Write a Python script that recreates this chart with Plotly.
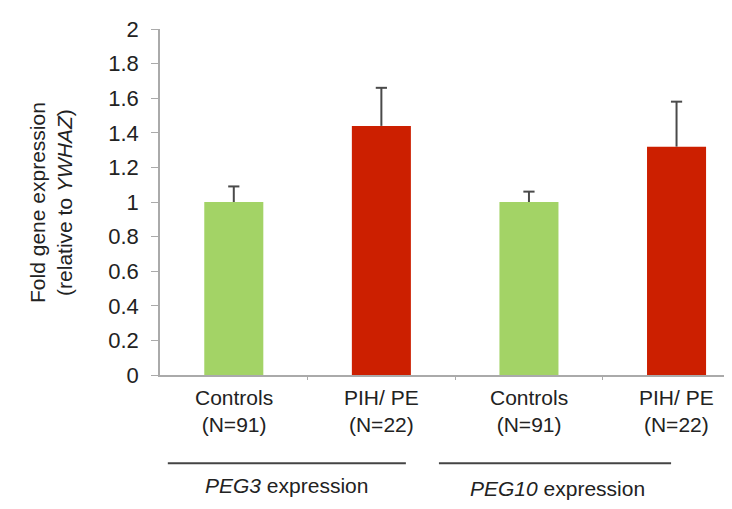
import plotly.graph_objects as go

# data
labels = ["Controls<br>(N=91)", "PIH/ PE<br>(N=22)", "Controls<br>(N=91)", "PIH/ PE<br>(N=22)"]
fold = [1.0, 1.44, 1.0, 1.32]
err_up = [0.09, 0.22, 0.06, 0.26]
colors = ["#a3d366", "#cc1f00", "#a3d366", "#cc1f00"]
groups = ["<i>PEG3</i> expression", "<i>PEG10</i> expression"]

xpos = list(range(len(fold)))
tops = [f + e for f, e in zip(fold, err_up)]

fig = go.Figure()
fig.add_trace(go.Bar(x=xpos, y=fold, width=0.4,
                     marker=dict(color=colors, line=dict(width=0))))
# upper error bar stems (no caps), then caps as markers
fig.add_trace(go.Scatter(
    x=xpos, y=fold, mode="markers", marker=dict(size=1, opacity=0),
    error_y=dict(type="data", symmetric=False, array=err_up, arrayminus=[0] * 4,
                 color="#4a4a4a", thickness=2, width=0),
))
fig.add_trace(go.Scatter(
    x=xpos, y=tops, mode="markers",
    marker=dict(symbol="line-ew-open", size=8, color="#4a4a4a",
                line=dict(color="#4a4a4a", width=2)),
))

# group underlines + labels
for x0, x1 in [(-0.447, 1.166), (1.39, 2.963)]:
    fig.add_shape(type="line", xref="x", yref="paper", x0=x0, x1=x1, y0=-0.255, y1=-0.255,
                  line=dict(color="#444444", width=2))
for gx, gy, txt in [(0.354, -0.357, groups[0]), (2.19, -0.366, groups[1])]:
    fig.add_annotation(x=gx, y=gy, xref="x", yref="paper", text=txt, showarrow=False,
                       font=dict(size=21, color="#222222"))

# category labels below axis
for i, lab in enumerate(labels):
    fig.add_annotation(x=i, y=-0.025, xref="x", yref="paper", text=lab, showarrow=False,
                       yanchor="top", font=dict(size=21, color="#222222"))

# y axis title
fig.add_annotation(x=-0.188, y=0.5, xref="paper", yref="paper", textangle=-90,
                   xanchor="center", yanchor="middle",
                   text="Fold gene expression<br>(relative to <i>YWHAZ</i>)",
                   showarrow=False, font=dict(size=21, color="#222222"))

fig.update_layout(
    width=732, height=509,
    margin=dict(l=152, r=0, t=21, b=142),
    plot_bgcolor="white", paper_bgcolor="white",
    font=dict(family="Liberation Sans, Arial, sans-serif", size=21, color="#222222"),
    showlegend=False,
    xaxis=dict(range=[-0.5, 3.43], tickvals=[0.5, 1.5, 2.5], ticktext=["", "", ""],
               ticks="outside", ticklen=3, tickcolor="#aaaaaa", automargin=False,
               showline=True, linecolor="#aaaaaa", linewidth=1.5, showgrid=False, zeroline=False),
    yaxis=dict(range=[0, 2], dtick=0.2, tickformat="~g", ticks="outside", ticklen=7,
               tickcolor="#aaaaaa", showline=True, linecolor="#aaaaaa", linewidth=1.5,
               showgrid=False, zeroline=False, tickfont=dict(size=22),
               ticklabelstandoff=8, automargin=False),
)

fig.write_html("out.html")
